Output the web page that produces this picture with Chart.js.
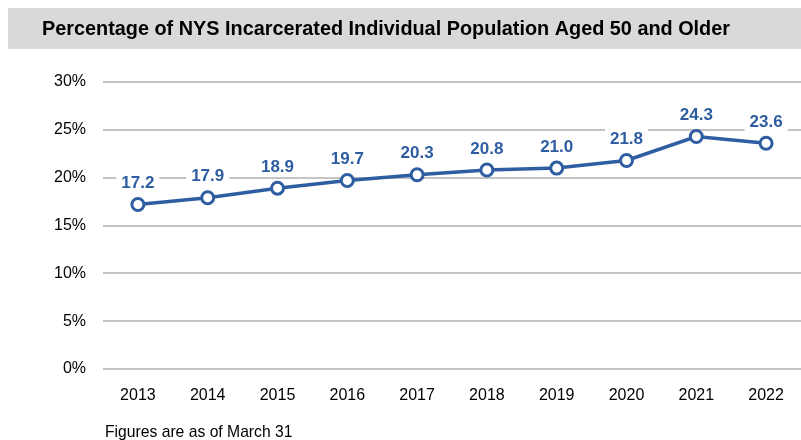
<!DOCTYPE html>
<html>
<head>
<meta charset="utf-8">
<script src="https://cdn.jsdelivr.net/npm/chart.js@4/dist/chart.umd.min.js"></script>
<style>
  html, body { margin: 0; padding: 0; background: #ffffff; }
  #wrap { width: 801px; height: 440px; position: relative; }
</style>
</head>
<body>
<div id="wrap"><canvas id="c" width="801" height="440"></canvas></div>
<script>
const years = ['2013', '2014', '2015', '2016', '2017', '2018', '2019', '2020', '2021', '2022'];
const pctAged50Plus = [17.2, 17.9, 18.9, 19.7, 20.3, 20.8, 21.0, 21.8, 24.3, 23.6];
const yTicks = [0, 5, 10, 15, 20, 25, 30];

const titleText = 'Percentage of NYS Incarcerated Individual Population Aged 50 and Older';
const footText = 'Figures are as of March 31';
const blue = '#2e5da1';
const baseFont = '"Liberation Sans", Arial, sans-serif';

// Grey banner with the heading, plus the note below the axis
const frame = {
  id: 'frame',
  beforeDraw(chart) {
    const ctx = chart.ctx;
    ctx.save();
    ctx.fillStyle = '#d9d9d9';
    ctx.fillRect(8, 8, 793, 41);
    ctx.fillStyle = '#000000';
    ctx.font = 'bold 19.5px ' + baseFont;
    ctx.textBaseline = 'alphabetic';
    ctx.textAlign = 'left';
    const w = ctx.measureText(titleText).width;
    const target = 688;
    ctx.translate(42, 35);
    ctx.scale(target / w, 1);
    ctx.fillText(titleText, 0, 0);
    ctx.restore();

    ctx.save();
    ctx.fillStyle = '#000000';
    ctx.font = '15.7px ' + baseFont;
    ctx.textBaseline = 'alphabetic';
    ctx.fillText(footText, 105, 437);
    ctx.restore();
  }
};

// Value labels on white boxes above each point
const valueLabels = {
  id: 'valueLabels',
  afterDatasetsDraw(chart) {
    const ctx = chart.ctx;
    const meta = chart.getDatasetMeta(0);
    ctx.save();
    ctx.font = 'bold 17px ' + baseFont;
    ctx.textAlign = 'center';
    ctx.textBaseline = 'middle';
    meta.data.forEach((pt, i) => {
      const txt = pctAged50Plus[i].toFixed(1);
      const w = ctx.measureText(txt).width;
      const x = pt.x, y = pt.y - 22;
      ctx.fillStyle = '#ffffff';
      ctx.fillRect(x - w / 2 - 5, y - 10, w + 10, 20);
      ctx.fillStyle = blue;
      ctx.fillText(txt, x, y + 1);
    });
    ctx.restore();
  }
};

new Chart(document.getElementById('c'), {
  type: 'line',
  data: {
    labels: years,
    datasets: [{
      data: pctAged50Plus,
      borderColor: blue,
      borderWidth: 3.5,
      pointRadius: 6,
      pointHoverRadius: 6,
      pointBorderWidth: 3,
      pointBackgroundColor: '#ffffff',
      pointBorderColor: blue,
      tension: 0,
      clip: false
    }]
  },
  options: {
    responsive: false,
    animation: false,
    events: [],
    layout: { autoPadding: false, padding: { top: 82, right: 0, bottom: 0, left: 0 } },
    plugins: {
      legend: { display: false },
      title: { display: false },
      tooltip: { enabled: false }
    },
    scales: {
      x: {
        offset: true,
        grid: { display: false, drawTicks: false },
        border: { display: false },
        ticks: {
          color: '#000000',
          font: { family: baseFont, size: 16 },
          padding: 17,
          maxRotation: 0,
          autoSkip: false
        },
        afterFit(scale) {
          scale.height = 71;
          scale.paddingLeft = 0;
          scale.paddingRight = 0;
        }
      },
      y: {
        min: 0,
        max: 30,
        afterBuildTicks(scale) { scale.ticks = yTicks.map(v => ({ value: v })); },
        grid: { color: '#c4c4c4', lineWidth: 2, drawTicks: false },
        border: { display: false },
        ticks: {
          color: '#000000',
          font: { family: baseFont, size: 16 },
          padding: 17,
          callback: v => v + '%'
        },
        afterFit(scale) { scale.width = 103; }
      }
    }
  },
  plugins: [frame, valueLabels]
});
</script>
</body>
</html>
